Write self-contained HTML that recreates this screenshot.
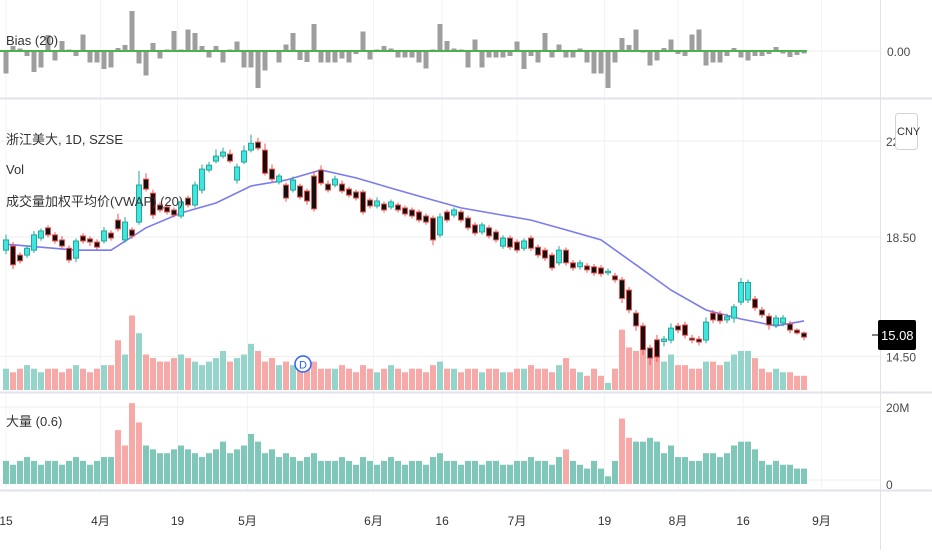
<!DOCTYPE html>
<html><head><meta charset="utf-8">
<style>
html,body{margin:0;padding:0;background:#fff;}
body{width:932px;height:550px;overflow:hidden;font-family:"Liberation Sans","Noto Sans CJK SC",sans-serif;}
svg text{font-family:"Liberation Sans","Noto Sans CJK SC",sans-serif;}
</style></head>
<body>
<svg id="chart" width="932" height="550" xmlns="http://www.w3.org/2000/svg"></svg>
<script>
const openP=[18.01,18.16,17.83,17.83,18.01,18.46,18.85,18.58,18.39,18.08,17.72,18.54,18.43,18.31,18.35,18.65,19.15,18.39,18.77,19.07,20.82,20.23,19.75,19.67,19.55,19.31,20.03,19.75,20.36,21.21,21.60,21.82,21.91,20.78,21.56,22.09,22.45,22.09,21.25,20.70,20.57,20.36,20.53,20.32,20.95,21.21,20.61,20.57,20.61,20.40,20.28,20.28,19.95,19.71,19.79,19.67,19.75,19.63,19.55,19.47,19.31,19.23,18.58,19.47,19.35,19.47,19.23,18.96,18.69,18.85,18.69,18.16,18.46,18.31,18.08,18.46,18.12,18.01,17.83,17.55,18.01,17.55,17.41,17.44,17.41,17.37,17.20,17.09,16.95,16.60,15.84,15.43,14.75,15.00,14.95,14.99,15.43,15.46,15.05,15.02,14.99,15.84,15.81,15.62,15.68,16.20,16.27,16.30,15.94,15.74,15.46,15.52,15.49,15.30,15.21];
const closeP=[18.39,17.48,17.62,18.08,18.58,18.73,18.58,18.35,18.16,17.65,18.35,18.35,18.31,18.12,18.73,18.46,18.81,19.07,18.54,20.57,20.40,19.35,19.55,19.47,19.35,19.87,19.75,20.57,21.25,21.42,21.82,22.00,21.60,21.34,22.05,22.40,22.18,21.07,20.82,20.95,20.03,20.78,20.07,19.91,19.59,20.65,20.36,20.82,20.32,20.15,20.03,19.47,19.71,19.91,19.55,19.87,19.55,19.39,19.31,19.15,19.07,18.39,19.27,19.15,19.55,19.15,18.85,18.65,18.96,18.54,18.39,18.46,18.12,18.01,18.35,18.08,17.83,17.72,17.37,18.01,17.55,17.37,17.55,17.30,17.19,17.16,17.25,16.95,16.32,15.94,15.43,14.69,14.45,14.48,15.02,15.36,15.30,15.14,14.99,14.93,15.55,15.62,15.59,15.72,16.04,16.86,16.86,16.01,15.78,15.46,15.68,15.68,15.30,15.21,15.08];
const wickUp=[.2,.15,.1,.1,.15,.1,.1,.1,.15,.1,.1,.1,.1,.1,.15,.1,.25,.2,.1,.6,.25,.15,.1,.1,.1,.15,.1,.15,.2,.15,.3,.2,.2,.15,.25,.4,.2,.3,.2,.1,.1,.15,.1,.1,.2,.2,.15,.15,.15,.1,.1,.1,.1,.15,.1,.1,.1,.1,.1,.1,.1,.1,.15,.1,.1,.1,.1,.1,.1,.1,.1,.1,.1,.1,.1,.1,.1,.1,.1,.15,.1,.1,.1,.1,.1,.1,.1,.1,.1,.1,.1,.1,.1,.15,.1,.15,.1,.1,.1,.1,.15,.1,.1,.1,.1,.15,.1,.1,.1,.1,.1,.1,.1,.05,.05];
const wickDn=[.15,.15,.1,.1,.1,.1,.1,.1,.1,.1,.15,.1,.15,.1,.1,.1,.1,.1,.1,.1,.1,.15,.1,.1,.1,.1,.1,.1,.15,.1,.1,.1,.1,.15,.1,.1,.1,.1,.1,.1,.15,.1,.1,.15,.1,.1,.1,.1,.1,.1,.1,.1,.1,.1,.1,.1,.1,.1,.1,.1,.1,.2,.1,.1,.1,.1,.1,.1,.1,.1,.1,.1,.1,.1,.1,.1,.1,.1,.1,.1,.1,.1,.1,.1,.1,.1,.1,.1,.15,.1,.15,.15,.2,.15,.15,.1,.1,.1,.1,.1,.1,.1,.1,.1,.15,.1,.1,.1,.1,.15,.1,.1,.1,.05,.1];
const volumes=[6,5,6,7,6,5,6,6,5,6,7,6,5,6,7,7,14,10,21,16,10,9,8,8,9,10,9,8,7,8,9,11,8,9,10,13,11,8,9,7,8,7,6,7,8,6,6,6,7,6,5,7,6,5,6,7,6,5,6,6,5,7,8,6,6,5,6,6,5,6,6,5,5,6,6,7,6,6,5,7,9,6,5,4,6,4,2,6,17,12,11,11,12,11,8,10,7,7,6,6,8,8,7,8,10,11,11,9,6,5,6,5,5,4,4];
const bigFlag=[0,0,0,0,0,0,0,0,0,0,0,0,0,0,0,0,1,1,1,1,0,0,0,0,0,0,0,0,0,0,0,0,0,0,0,0,0,0,0,0,0,0,0,0,0,0,0,0,0,0,0,0,0,0,0,0,0,0,0,0,0,0,0,0,0,0,0,0,0,0,0,0,0,0,0,0,0,0,0,0,1,0,0,0,0,0,0,0,1,1,0,0,0,0,0,0,0,0,0,0,0,0,0,0,0,0,0,0,0,0,0,0,0,0,0];
const biasVals=[-4.5,1,0.5,-1,-4.2,-3.3,3.2,-1.9,2,0.3,-1,3.3,-2.3,-2.3,-3.6,-3.3,0.6,1.2,8,-2.5,-4.9,1.6,-1.5,0.3,4,0.3,4.3,3.6,1,-1.3,1,-2.3,0.3,1.9,-3.3,-3.3,-7.4,-3.9,0.2,-2.3,1.3,3.6,-1.8,-2.2,5.4,-2.3,-2.3,-2.3,-1.5,-2.3,-0.6,3.9,-1.7,0.3,1,0.5,-1.3,-1.3,-1.3,-2.3,-3.5,0.3,5.4,2,0.5,0.3,-3.3,2.3,-3.3,-1.3,-1.3,-1.3,-1,1.9,-3.6,-1,-2.3,3.6,-1.3,1.3,-1.3,-1.3,0.5,-2.3,-4.5,-4.5,-7.4,-2.3,2.6,1.2,4.3,-0.3,-2.9,-1.9,0.6,2.3,-0.6,-1,3.3,4.3,-2.9,-2.3,-2.3,-1,0.6,-1.3,-1.9,-1,-1,-0.6,0.8,-0.5,-1.2,-0.8,-0.5];
const vwapIdx=[0,5,10,15,20,25,30,35,40,45,50,55,60,65,70,75,80,85,90,95,100,105,110,114];
const vwapVals=[18.23,18.12,18.01,18.01,18.85,19.43,19.83,20.53,20.78,21.21,20.87,20.44,20.03,19.63,19.39,19.15,18.77,18.39,17.48,16.60,15.94,15.65,15.43,15.59];
const priceTicks=[22.5,18.5,14.5];
const priceTickLabels=["22.50","18.50","14.50"];
const volTicks=[20,0];
const volTickLabels=["20M","0"];
const timeLabels=["15","4月","19","5月","6月","16","7月","19","8月","16","9月"];
const timeIdx=[0,13.5,24.5,34.5,52.5,62.3,73,85.5,96,105.3,116.5];
const lastPrice=15.08;

const NS="http://www.w3.org/2000/svg";
const svg=document.getElementById('chart');
function mk(tag,attrs,parent){const e=document.createElementNS(NS,tag);for(const k in attrs)e.setAttribute(k,attrs[k]);(parent||svg).appendChild(e);return e;}
const xOf=i=>6+7.0*i;
const yP=p=>237+490*Math.log(18.5/p);
const yBias=v=>51-v*5;
const yVolMain=v=>390-v*3.55;
const yVolBot=v=>484-v*3.85;

// grid
const grid=mk('g',{});


timeIdx.forEach(t=>{mk('line',{x1:xOf(t),x2:xOf(t),y1:0,y2:490,stroke:'#f3f3f3','stroke-width':1},grid);});
mk('line',{x1:0,x2:880,y1:51,y2:51,stroke:'#eeeeee'},grid);
priceTicks.forEach(p=>mk('line',{x1:0,x2:880,y1:yP(p),y2:yP(p),stroke:'#eeeeee'},grid));
volTicks.forEach(v=>mk('line',{x1:0,x2:880,y1:yVolBot(v)-(v===0?4:0),y2:yVolBot(v)-(v===0?4:0),stroke:'#eeeeee'},grid));
// separators
const seps=mk('g',{});


mk('line',{x1:0,x2:932,y1:98.5,y2:98.5,stroke:'#e0e3eb','stroke-width':2},seps);
mk('line',{x1:0,x2:932,y1:392.5,y2:392.5,stroke:'#e0e3eb','stroke-width':2},seps);
mk('line',{x1:0,x2:932,y1:490.5,y2:490.5,stroke:'#e0e3eb','stroke-width':2},seps);
mk('line',{x1:880.5,x2:880.5,y1:0,y2:550,stroke:'#e0e3eb'},seps);

// bias pane
const biasG=mk('g',{});


biasVals.forEach((v,i)=>{
  const y0=yBias(0),y1=yBias(v);
  const r=mk('rect',{x:xOf(i)-2.5,y:Math.min(y0,y1),width:5,height:Math.max(1,Math.abs(y1-y0)),fill:'#9e9e9e'},biasG);
  
  
});
const bl=mk('line',{x1:0,x2:xOf(114)+3,y1:yBias(0),y2:yBias(0),stroke:'#4caf50','stroke-width':2},biasG);



// main volume
const vm=mk('g',{});


volumes.forEach((v,i)=>{
  const up=closeP[i]>=openP[i];
  const r=mk('rect',{x:xOf(i)-3,y:yVolMain(v),width:6,height:390-yVolMain(v),fill:up?'#94d4ca':'#f6a9a7'},vm);
  
  
});

// vwap
const vw=mk('path',{d:vwapIdx.map((ix,k)=>(k?'L':'M')+xOf(ix)+' '+yP(vwapVals[k]).toFixed(1)).join(' '),fill:'none',stroke:'#7b7bf0','stroke-width':1.6});



// candles
const cg=mk('g',{});


openP.forEach((o,i)=>{
  const c=closeP[i],up=c>=o,x=xOf(i);
  const hi=Math.max(o,c)+wickUp[i],lo=Math.min(o,c)-wickDn[i];
  const col=up?'#26a69a':'#ef5350';
  const g=mk('g',{},cg);
  
  
  mk('line',{x1:x,x2:x,y1:yP(hi),y2:yP(lo),stroke:col,'stroke-width':1},g);
  const yt=yP(Math.max(o,c)),yb=yP(Math.min(o,c));
  mk('rect',{x:x-2.5,y:yt,width:5,height:Math.max(1.5,yb-yt),fill:up?'#3fe6df':'#111',stroke:col,'stroke-width':1},g);
});

// bottom pane
const bg=mk('g',{});


volumes.forEach((v,i)=>{
  const r=mk('rect',{x:xOf(i)-3,y:yVolBot(v),width:6,height:484-yVolBot(v),fill:bigFlag[i]?'#f6a9a7':'#7fc7b8'},bg);
  
  
});

// axis labels
const ax=mk('g',{'font-size':12,fill:'#4a4a4a'});


priceTicks.forEach((p,k)=>{const t=mk('text',{x:886,y:yP(p)+5},ax);t.textContent=priceTickLabels[k];});
const zb=mk('text',{x:887,y:56},ax);zb.textContent='0.00';
volTicks.forEach((v,k)=>{const t=mk('text',{x:886,y:(v===0?484:yVolBot(v))+5},ax);t.textContent=volTickLabels[k];});
const badge=mk('g',{});


mk('rect',{x:878,y:320,width:38,height:30,fill:'#000',rx:2},badge);
mk('line',{x1:872,x2:878,y1:335,y2:335,stroke:'#000'},badge);
const bt=mk('text',{x:881,y:340,'font-size':13,fill:'#fff'},badge);bt.textContent=lastPrice.toFixed(2);
const cny=mk('g',{});


mk('rect',{x:895.5,y:113.5,width:22,height:36,rx:3,fill:'#fff',stroke:'#d0d3da'},cny);
const ct=mk('text',{x:897,y:135,'font-size':11,fill:'#333'},cny);ct.textContent='CNY';

const ta=mk('g',{'font-size':12,fill:'#333','text-anchor':'middle'});


timeLabels.forEach((l,k)=>{const t=mk('text',{x:xOf(timeIdx[k]),y:525},ta);t.textContent=l;});

// legends
function lg(txt,x,y,name){const t=mk('text',{x:x,y:y,'font-size':13,fill:'#333'});t.textContent=txt;}
lg('Bias (20)',6,45,'bias-legend');
lg('浙江美大, 1D, SZSE',6,144,'symbol-legend');
lg('Vol',6,174,'volume-legend');
lg('成交量加权平均价(VWAP) (20)',6,206,'vwap-legend');
lg('大量 (0.6)',6,426,'big-volume-legend');

// D marker
const dm=mk('g',{});


mk('circle',{cx:303,cy:364,r:8,fill:'#fff',stroke:'#2962ff','stroke-width':1.5},dm);
const dt=mk('text',{x:303,y:368.5,'font-size':11,fill:'#2962ff','text-anchor':'middle'},dm);dt.textContent='D';
</script>
</body></html>
